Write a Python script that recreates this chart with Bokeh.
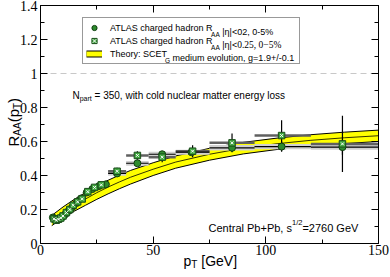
from math import pi
from bokeh.plotting import figure
from bokeh.models import (Range1d, FixedTicker, LinearAxis, Label,
                          Legend, LegendItem, ColumnDataSource)
from bokeh.embed import file_html
from bokeh.resources import INLINE

# ---------------- data ----------------
# ATLAS charged hadron R_AA, |eta|<2, 0-5%  (circles)
pt_eta2 = [5.5, 6.5, 7.5, 8.5, 9.5, 11.0, 12.5, 14.0, 16.0, 18.0, 20.5, 23.0, 26.0, 29.0,
           34.0, 43.0, 54.0, 67.0, 85.0, 107.0, 134.0]
raa_eta2 = [0.153, 0.140, 0.139, 0.146, 0.155, 0.172, 0.192, 0.212, 0.238, 0.265, 0.300,
            0.320, 0.338, 0.348, 0.412, 0.472, 0.525, 0.537, 0.563, 0.570, 0.567]
stat_eta2 = [0.004, 0.004, 0.004, 0.004, 0.004, 0.005, 0.005, 0.005, 0.006, 0.006, 0.007,
             0.007, 0.008, 0.008, 0.010, 0.012, 0.015, 0.018, 0.022, 0.030, 0.045]
sys_eta2 = [0.006, 0.006, 0.006, 0.006, 0.006, 0.007, 0.007, 0.008, 0.008, 0.009, 0.010,
            0.010, 0.011, 0.011, 0.013, 0.014, 0.015, 0.015, 0.016, 0.016, 0.016]
lo_eta2 = [5.0, 6.0, 7.0, 8.0, 9.0, 10.0, 12.0, 13.0, 15.0, 17.0, 19.0, 22.0, 24.0, 27.0,
           30.0, 38.0, 48.0, 60.0, 75.0, 95.0, 120.0]
hi_eta2 = [6.0, 7.0, 8.0, 9.0, 10.0, 12.0, 13.0, 15.0, 17.0, 19.0, 22.0, 24.0, 27.0, 30.0,
           38.0, 48.0, 60.0, 75.0, 95.0, 120.0, 150.0]

# ATLAS charged hadron R_AA, |eta|<0.25, 0-5%  (squares)
pt_eta025 = [6.0, 7.0, 8.0, 9.0, 10.0, 11.5, 13.0, 14.5, 16.5, 18.5, 21.0, 24.0, 27.0,
             34.0, 43.0, 54.0, 67.5, 85.0, 107.0, 134.0]
raa_eta025 = [0.145, 0.137, 0.143, 0.150, 0.162, 0.182, 0.200, 0.225, 0.245, 0.262, 0.305,
              0.330, 0.345, 0.425, 0.518, 0.508, 0.543, 0.592, 0.635, 0.586]
err_eta025 = [0.006, 0.006, 0.006, 0.006, 0.007, 0.007, 0.008, 0.008, 0.009, 0.010, 0.011,
              0.012, 0.013, 0.020, 0.025, 0.030, 0.035, 0.055, 0.090, 0.165]
lo_eta025 = [5.5, 6.5, 7.5, 8.5, 9.5, 10.5, 12.0, 13.5, 15.5, 17.5, 19.5, 22.5, 25.5,
             30.0, 38.0, 48.0, 60.0, 75.0, 95.0, 120.0]
hi_eta025 = [6.5, 7.5, 8.5, 9.5, 10.5, 12.0, 13.5, 15.5, 17.5, 19.5, 22.5, 25.5, 28.5,
             38.0, 48.0, 60.0, 75.0, 95.0, 120.0, 150.0]

# Theory band: SCET_G, g = 1.9 +/- 0.1
pt_theory = [5, 10, 15, 20, 25, 30, 35, 40, 50, 60, 75, 90, 105, 120, 135, 150]
raa_theory_hi = [0.165, 0.215, 0.260, 0.300, 0.338, 0.372, 0.402, 0.430, 0.475, 0.515,
                 0.560, 0.595, 0.620, 0.640, 0.655, 0.667]
raa_theory_mid = [0.135, 0.182, 0.225, 0.262, 0.299, 0.332, 0.362, 0.390, 0.437, 0.479,
                  0.525, 0.561, 0.587, 0.607, 0.622, 0.634]
raa_theory_lo = [0.105, 0.150, 0.190, 0.225, 0.260, 0.292, 0.322, 0.350, 0.400, 0.443,
                 0.490, 0.527, 0.553, 0.573, 0.588, 0.600]

# reference line R_AA = 1
ref_x = [0, 150]
ref_y = [1.0, 1.0]

x_ticks = [0, 50, 100, 150]
x_minor = [25, 75, 125]
y_ticks = [0.0, 0.2, 0.4, 0.6, 0.8, 1.0, 1.2, 1.4]
y_minor = [0.1, 0.3, 0.5, 0.7, 0.9, 1.1, 1.3]
y_tick_labels = ["0", "0.2", "0.4", "0.6", "0.8", "1", "1.2", "1.4"]
X_MIN, X_MAX = 0, 150
Y_MIN, Y_MAX = 0.0, 1.4

# ---------------- figure ----------------
SANS = "Liberation Sans"
SERIF = "Liberation Serif"
W, H = 390, 277
FL, FR, FT, FB = 40, 378, 5, 243          # pixel box of the axes
sx_per = (FR - FL) / (X_MAX - X_MIN)
sy_per = (FB - FT) / (Y_MAX - Y_MIN)
xr = Range1d(X_MIN - FL / sx_per, X_MAX + (W - FR) / sx_per)
yr = Range1d(Y_MIN - (H - FB) / sy_per, Y_MAX + FT / sy_per)

p = figure(width=W, height=H, x_range=xr, y_range=yr,
           output_backend="svg", toolbar_location=None,
           min_border_left=0, min_border_right=0, min_border_top=0, min_border_bottom=0)
p.xgrid.visible = False
p.ygrid.visible = False
p.outline_line_color = None
p.background_fill_color = "white"
p.border_fill_color = "white"


def base_axis(ax, loc, bounds):
    ax.fixed_location = loc
    ax.bounds = bounds
    ax.axis_line_color = "black"
    ax.axis_line_width = 1
    ax.major_tick_line_color = "black"
    ax.minor_tick_line_color = "black"
    ax.major_tick_out = 0
    ax.minor_tick_out = 0


def labelled_axis(ax, ticks, minor, loc, bounds):
    base_axis(ax, loc, bounds)
    ax.ticker = FixedTicker(ticks=ticks, minor_ticks=minor)
    ax.major_tick_in = 7
    ax.minor_tick_in = 4
    ax.major_label_text_font = SERIF
    ax.major_label_text_font_size = "14px"
    ax.major_label_text_color = "black"
    ax.major_label_standoff = 3


def tick_only_axis(side, ticks, length, loc, bounds):
    # ticks drawn as "minor" ticks so that the axis carries no tick labels
    ax = LinearAxis(ticker=FixedTicker(ticks=[], minor_ticks=ticks))
    base_axis(ax, loc, bounds)
    ax.minor_tick_in = length
    ax.major_tick_in = 0
    p.add_layout(ax, side)


labelled_axis(p.xaxis[0], x_ticks, x_minor, Y_MIN, (X_MIN, X_MAX))
labelled_axis(p.yaxis[0], y_ticks, y_minor, X_MIN, (Y_MIN, Y_MAX))
p.yaxis[0].major_label_overrides = {t: l for t, l in zip(y_ticks, y_tick_labels)}
p.xaxis[0].major_label_standoff = 1

tick_only_axis("above", x_ticks, 7, Y_MAX, (X_MIN, X_MAX))
tick_only_axis("above", x_minor, 4, Y_MAX, (X_MIN, X_MAX))
tick_only_axis("right", y_ticks, 7, X_MAX, (Y_MIN, Y_MAX))
tick_only_axis("right", y_minor, 4, X_MAX, (Y_MIN, Y_MAX))

# dashed reference line
p.line(x=ref_x, y=ref_y, line_color="#c8c8c8", line_dash="6 4", line_width=1)

# theory band
th = ColumnDataSource(dict(x=pt_theory, lo=raa_theory_lo, mid=raa_theory_mid, hi=raa_theory_hi))
p.varea(x="x", y1="lo", y2="hi", source=th, fill_color="#ffff00")
p.line(x="x", y="hi", source=th, line_color="black", line_width=1)
p.line(x="x", y="lo", source=th, line_color="black", line_width=1)
p.line(x="x", y="mid", source=th, line_color="black", line_width=0.8)

# data error bars
c = ColumnDataSource(dict(x=pt_eta2, y=raa_eta2, lo=lo_eta2, hi=hi_eta2,
                          sb=[v - e for v, e in zip(raa_eta2, sys_eta2)],
                          st=[v + e for v, e in zip(raa_eta2, sys_eta2)],
                          eb=[v - e for v, e in zip(raa_eta2, stat_eta2)],
                          et=[v + e for v, e in zip(raa_eta2, stat_eta2)]))
s = ColumnDataSource(dict(x=pt_eta025, y=raa_eta025, lo=lo_eta025, hi=hi_eta025,
                          eb=[v - e for v, e in zip(raa_eta025, err_eta025)],
                          et=[v + e for v, e in zip(raa_eta025, err_eta025)]))
p.quad(left="lo", right="hi", bottom="sb", top="st", source=c,
       fill_color="#d0d0d0", line_color=None)
p.segment(x0="lo", x1="hi", y0="y", y1="y", source=s, line_color="#606060", line_width=2.5)
p.segment(x0="lo", x1="hi", y0="y", y1="y", source=c, line_color="black", line_width=1.2)
p.segment(x0="x", x1="x", y0="eb", y1="et", source=c, line_color="black", line_width=1.2)
p.segment(x0="x", x1="x", y0="eb", y1="et", source=s, line_color="black", line_width=1.2)

r_circ = p.scatter(x="x", y="y", source=c, marker="circle", size=7,
                   fill_color="#2e8b2e", line_color="#0f3f0f", line_width=1)
r_sq = p.scatter(x="x", y="y", source=s, marker="square", size=6.5,
                 fill_color="#3fa63f", line_color="#1b4d1b", line_width=1)
r_sqx = p.scatter(x="x", y="y", source=s, marker="x", size=4,
                  line_color="white", line_width=1)

# legend-only swatch for the band (no visible data)
nan = float("nan")
r_b1 = p.line(x=[nan], y=[nan], line_color="black", line_width=7)
r_b2 = p.line(x=[nan], y=[nan], line_color="#ffff00", line_width=5)

LEG1 = "ATLAS charged hadron R"
LEG3 = "Theory: SCET"
legend = Legend(items=[LegendItem(label=LEG1, renderers=[r_circ]),
                       LegendItem(label=LEG1, renderers=[r_sq, r_sqx]),
                       LegendItem(label=LEG3, renderers=[r_b1, r_b2])],
                location=(82, H - 64), orientation="vertical",
                glyph_width=16, glyph_height=13, label_height=13, label_width=186,
                label_standoff=8, padding=3, spacing=0, margin=0,
                label_text_font=SANS, label_text_font_size="9px",
                label_text_color="black",
                border_line_color="#333333", border_line_width=1,
                background_fill_color="white", background_fill_alpha=0.0)
p.add_layout(legend, "center")

# ---------------- texts ----------------
W_SANS = {' ': 278, '!': 278, '%': 889, '(': 333, ')': 333, '+': 584, ',': 278, '-': 333,
          '.': 278, '/': 278, ':': 278, '<': 584, '=': 584, '[': 278, ']': 278, '|': 260,
          'η': 556, '−': 584,
          'A': 667, 'B': 667, 'C': 722, 'D': 722, 'E': 667, 'F': 611, 'G': 778, 'H': 722,
          'I': 278, 'L': 556, 'M': 833, 'N': 722, 'O': 778, 'P': 667, 'R': 722, 'S': 667,
          'T': 611, 'V': 667,
          'a': 556, 'b': 556, 'c': 500, 'd': 556, 'e': 556, 'f': 278, 'g': 556, 'h': 556,
          'i': 222, 'j': 222, 'k': 500, 'l': 222, 'm': 833, 'n': 556, 'o': 556, 'p': 556,
          'q': 556, 'r': 333, 's': 500, 't': 278, 'u': 556, 'v': 500, 'w': 722, 'x': 500,
          'y': 500, 'z': 500}
W_SERIF = {' ': 250, '.': 250, ',': 250, '−': 564, '%': 833, '-': 333}


def width(txt, font, size):
    tot = 0
    for ch in txt:
        if font == SERIF:
            tot += W_SERIF.get(ch, 500)
        else:
            tot += W_SANS.get(ch, 556)
    return tot * size / 1000.0


def put(pieces, px, py, angle=0.0, start=0.0):
    """Place text pieces; (px, py) = baseline start in pixels from the top-left."""
    pos = start
    for txt, font, size, shift in pieces:
        stripped = txt.lstrip(" ")
        pos += width(txt[:len(txt) - len(stripped)], font, size)   # leading blanks
        if angle == 0.0:
            x, y = px + pos, (H - py) + shift
        else:
            x, y = px - shift, (H - py) + pos
        p.add_layout(Label(x=x, y=y, x_units="screen", y_units="screen", text=stripped,
                           text_font=font, text_font_size=f"{size}px", angle=angle,
                           text_color="black", text_align="left",
                           text_baseline="alphabetic"))
        pos += width(stripped, font, size)


# legend texts (continuing after the legend's own labels)
put([("AA", SANS, 6.5, -2.5), (" |η|<02, 0-5%", SANS, 9, 0)], 109, 31.6,
    start=width(LEG1, SANS, 9) - 1.5)
put([("AA", SANS, 6.5, -2.5), (" |η|<", SANS, 9, 0), ("0.25, 0−5%", SERIF, 9.5, 0)],
    109, 44.6, start=width(LEG1, SANS, 9) - 1.5)
put([("G", SANS, 6.5, -2.5), (" medium evolution, g=1.9+/-0.1", SANS, 9, 0)], 109, 57.6,
    start=width(LEG3, SANS, 9) - 1.5)

# annotations
put([("N", SANS, 10, 0), ("part", SANS, 7, -2.5),
     (" = 350, with cold nuclear matter energy loss", SANS, 10, 0)], 72, 95)
put([("Central Pb+Pb, s", SANS, 11, 0), ("1/2", SANS, 7.5, 5),
     ("=2760 GeV", SANS, 11, 0)], 208, 227)

# axis titles
put([("p", SANS, 14, 0), ("T", SANS, 10, -4), (" [GeV]", SANS, 14, 0)], 183, 260)
put([("R", SANS, 15, 0), ("AA", SANS, 10, -4), ("(p", SANS, 15, 0), ("T", SANS, 10, -4),
     (")", SANS, 15, 0)], 13, 146, angle=pi / 2)

open("out.html", "w").write(file_html(p, INLINE))
